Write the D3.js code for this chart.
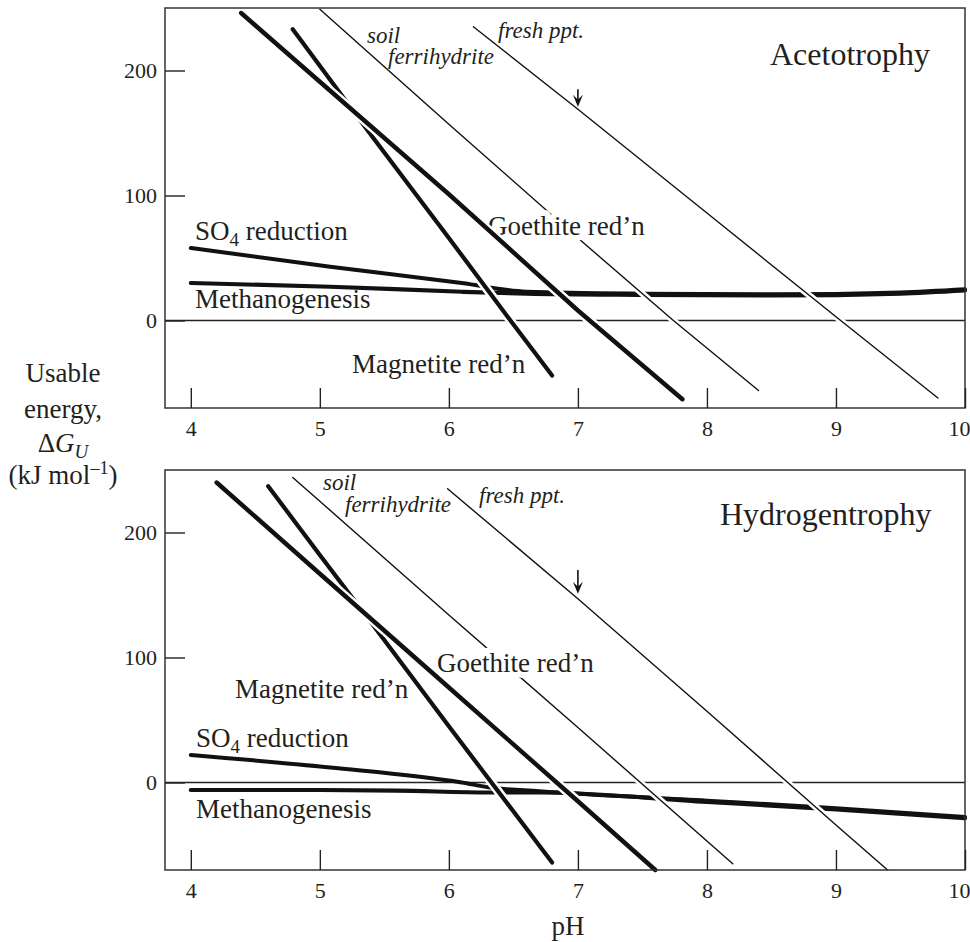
<!DOCTYPE html>
<html>
<head>
<meta charset="utf-8">
<script src="https://cdn.jsdelivr.net/npm/d3@7"></script>
<style>
body { margin: 0; background: #fff; }
svg text { font-family: "Liberation Serif", "Times New Roman", serif; fill: #231f20; }
</style>
</head>
<body>
<svg id="chart" width="970" height="942"></svg>
<script>
// axis ticks
const pHTicks = [4, 5, 6, 7, 8, 9, 10];
const energyTicks = [0, 100, 200];

// Acetotrophy, [pH, usable energy kJ/mol]
const acetoSO4 = [[4, 58], [5.08, 43], [6.1, 30], [6.6, 23], [7.5, 21.5], [8.5, 21], [9.5, 22.5], [10, 25]];
const acetoMethano = [[4, 30], [5.08, 27], [6.1, 23], [6.6, 21.5], [7.5, 20.5], [8.5, 20], [9.5, 21.5], [10, 24]];
const acetoMagnetite = [[4.79, 233], [5.4, 148], [6.0, 66], [6.47, 1], [6.8, -44]];
const acetoGoethite = [[4.39, 246], [5.0, 191], [6.0, 101], [7.0, 8], [7.81, -63]];
const acetoSoilFerri = [[5.0, 249], [6.0, 157], [7.0, 66], [7.74, 0], [8.4, -56]];
const acetoFreshPpt = [[6.19, 235], [7.0, 169], [8.0, 86], [9.0, 3], [9.79, -62]];
const acetoArrow = [7, 185, 171];

// Hydrogentrophy
const hydroSO4 = [[4, 22], [5.08, 12], [6.1, 0], [6.32, -4], [6.7, -7], [8, -14.5], [9, -20.5], [10, -27.5]];
const hydroMethano = [[4, -6], [5, -6], [5.6, -6.5], [6.32, -8], [6.7, -8], [8, -15.5], [9, -21.5], [10, -28.5]];
const hydroMagnetite = [[4.6, 237], [5.0, 182], [5.39, 129], [6.0, 45], [6.8, -64]];
const hydroGoethite = [[4.2, 240], [5.0, 167], [6.0, 76], [7.0, -15], [7.6, -70]];
const hydroSoilFerri = [[4.79, 244], [5.0, 225], [6.0, 134], [7.0, 44], [8.2, -65]];
const hydroFreshPpt = [[5.99, 235], [7.0, 147], [8.0, 57], [9.0, -34], [9.4, -70]];
const hydroArrow = [7, 170, 151];

const svg = d3.select("#chart");
const x = d3.scaleLinear().domain([3.8, 10]).range([165, 965]);

const panels = [
    {
        title: "Acetotrophy", top: 8,
        so4: acetoSO4, methano: acetoMethano, magnetite: acetoMagnetite,
        goethite: acetoGoethite, soil: acetoSoilFerri, fresh: acetoFreshPpt, arrow: acetoArrow,
        // label offsets inside the frame (px)
        pos: { so4: [30, 232], methano: [30, 300], magnetite: [187, 365], goethite: [323, 227],
               soil: [202, 35], ferri: [223, 56], fresh: [333, 30], title: [605, 57] }
    },
    {
        title: "Hydrogentrophy", top: 470,
        so4: hydroSO4, methano: hydroMethano, magnetite: hydroMagnetite,
        goethite: hydroGoethite, soil: hydroSoilFerri, fresh: hydroFreshPpt, arrow: hydroArrow,
        pos: { so4: [31, 277], methano: [31, 348], magnetite: [70, 228], goethite: [272, 202],
               soil: [158, 20], ferri: [180, 42], fresh: [314, 33], title: [555, 55] }
    }
];

function drawPanel(panel) {
    const y = d3.scaleLinear().domain([-70, 250]).range([panel.top + 400, panel.top]);
    const g = svg.append("g");
    const smooth = d3.line()
        .x(function (d) { return x(d[0]); })
        .y(function (d) { return y(d[1]); })
        .curve(d3.curveMonotoneX);
    const straight = d3.line()
        .x(function (d) { return x(d[0]); })
        .y(function (d) { return y(d[1]); });

    g.append("line")
        .attr("x1", x(3.8)).attr("x2", x(10))
        .attr("y1", y(0)).attr("y2", y(0))
        .attr("stroke", "#222").attr("stroke-width", 1.3);

    function curve(data, width, halo, line) {
        if (halo) {
            g.append("path").attr("d", line(data))
                .attr("fill", "none").attr("stroke", "#fff")
                .attr("stroke-width", width + 5);
        }
        g.append("path").attr("d", line(data))
            .attr("fill", "none").attr("stroke", "#111")
            .attr("stroke-width", width).attr("stroke-linecap", "round")
            .attr("stroke-linejoin", "round");
    }

    function label(pos, str, size, italic) {
        return g.append("text")
            .attr("x", x.range()[0] + pos[0])
            .attr("y", panel.top + pos[1])
            .attr("font-size", size)
            .attr("font-style", italic ? "italic" : null)
            .text(str);
    }

    curve(panel.so4, 4, false, smooth);
    curve(panel.methano, 4.2, false, smooth);
    curve(panel.magnetite, 4.2, true, straight);
    curve(panel.soil, 1.4, true, straight);
    curve(panel.fresh, 1.4, true, straight);

    // arrow at pH 7
    const ax = x(panel.arrow[0]), ay1 = y(panel.arrow[1]), ay2 = y(panel.arrow[2]);
    g.append("line").attr("x1", ax).attr("x2", ax).attr("y1", ay1).attr("y2", ay2 - 4)
        .attr("stroke", "#111").attr("stroke-width", 1.6);
    g.append("path")
        .attr("d", "M" + (ax - 5) + "," + (ay2 - 12) + "L" + ax + "," + ay2 + "L" + (ax + 5) + "," + (ay2 - 12) + "L" + ax + "," + (ay2 - 7) + "Z")
        .attr("fill", "#111");

    const so4 = label(panel.pos.so4, "SO", 27);
    so4.append("tspan").attr("font-size", 19).attr("dy", 6).text("4");
    so4.append("tspan").attr("dy", -6).text(" reduction");
    label(panel.pos.methano, "Methanogenesis", 27);
    label(panel.pos.magnetite, "Magnetite red\u2019n", 27);
    label(panel.pos.goethite, "Goethite red\u2019n", 27)
        .attr("stroke", "#fff").attr("stroke-width", 12)
        .attr("stroke-linejoin", "round").attr("paint-order", "stroke");
    label(panel.pos.soil, "soil", 23, true);
    label(panel.pos.ferri, "ferrihydrite", 23, true);
    label(panel.pos.fresh, "fresh ppt.", 23, true);
    label(panel.pos.title, panel.title, 32);

    curve(panel.goethite, 4.4, true, straight);

    // frame and axes
    g.append("rect")
        .attr("x", x(3.8)).attr("y", panel.top)
        .attr("width", x(10) - x(3.8)).attr("height", 400)
        .attr("fill", "none").attr("stroke", "#333").attr("stroke-width", 1.5);

    const xAxis = g.append("g")
        .attr("transform", "translate(0," + (panel.top + 400) + ")")
        .call(d3.axisBottom(x).tickValues(pHTicks).tickFormat(d3.format("d"))
            .tickSize(-20).tickSizeOuter(0).tickPadding(12));
    const yAxis = g.append("g")
        .attr("transform", "translate(" + x(3.8) + ",0)")
        .call(d3.axisLeft(y).tickValues(energyTicks).tickFormat(d3.format("d"))
            .tickSize(-20).tickSizeOuter(0).tickPadding(8));

    [xAxis, yAxis].forEach(function (a) {
        a.attr("font-family", null).attr("font-size", 22);
        a.select(".domain").remove();
        a.selectAll(".tick line").attr("stroke", "#222").attr("stroke-width", 1.4);
        a.selectAll(".tick text").attr("fill", "#231f20");
    });
    // keep the last pH label inside the page
    xAxis.selectAll(".tick text").filter(function (d) { return d === 10; }).attr("dx", -6);
}

panels.forEach(drawPanel);

// y title
const yTitleLines = svg.append("g").attr("text-anchor", "middle").attr("font-size", 27);
yTitleLines.append("text").attr("x", 63).attr("y", 382).text("Usable");
yTitleLines.append("text").attr("x", 63).attr("y", 418).text("energy,");
const dG = yTitleLines.append("text").attr("x", 63).attr("y", 452);
dG.append("tspan").text("\u0394");
dG.append("tspan").attr("font-style", "italic").text("G");
dG.append("tspan").attr("font-style", "italic").attr("font-size", 19).attr("dy", 6).text("U");
const units = yTitleLines.append("text").attr("x", 63).attr("y", 484);
units.append("tspan").text("(kJ mol");
units.append("tspan").attr("font-size", 18).attr("dy", -10).text("\u20131");
units.append("tspan").attr("dy", 10).text(")");

// x title
svg.append("text").attr("x", 568).attr("y", 935)
    .attr("text-anchor", "middle").attr("font-size", 27).text("pH");
</script>
</body>
</html>
